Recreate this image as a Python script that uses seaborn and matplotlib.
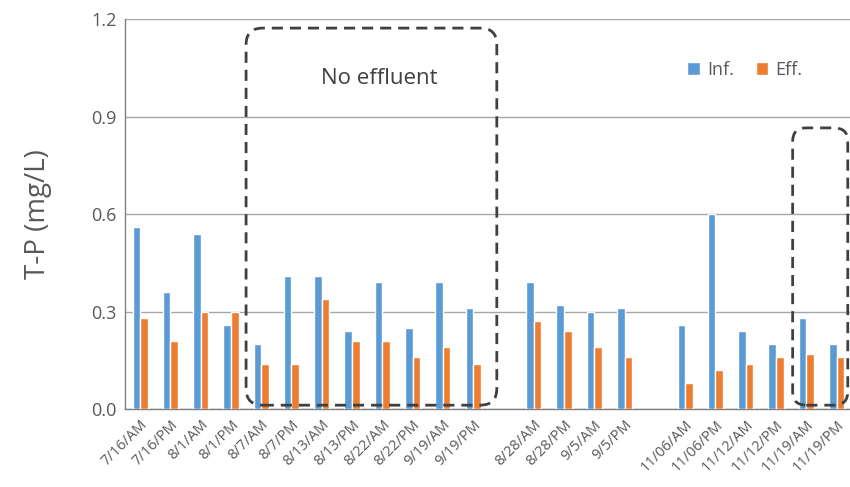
import matplotlib
matplotlib.use("Agg")
import matplotlib.pyplot as plt
from matplotlib.patches import FancyBboxPatch
import seaborn as sns
import pandas as pd

# sampling events (blank entries are the gaps between campaigns)
dates = ["7/16/AM", "7/16/PM", "8/1/AM", "8/1/PM", "8/7/AM", "8/7/PM",
         "8/13/AM", "8/13/PM", "8/22/AM", "8/22/PM", "9/19/AM", "9/19/PM",
         "gap1",
         "8/28/AM", "8/28/PM", "9/5/AM", "9/5/PM",
         "gap2",
         "11/06/AM", "11/06/PM", "11/12/AM", "11/12/PM", "11/19/AM", "11/19/PM"]
inf = [0.56, 0.36, 0.54, 0.26, 0.20, 0.41, 0.41, 0.24, 0.39, 0.25, 0.39, 0.31,
       None,
       0.39, 0.32, 0.30, 0.31,
       None,
       0.26, 0.60, 0.24, 0.20, 0.28, 0.20]
eff = [0.28, 0.21, 0.30, 0.30, 0.14, 0.14, 0.34, 0.21, 0.21, 0.16, 0.19, 0.14,
       None,
       0.27, 0.24, 0.19, 0.16,
       None,
       0.08, 0.12, 0.14, 0.16, 0.17, 0.16]
series = ["Inf.", "Eff."]
colors = ["#5B9BD5", "#ED7D31"]

df = pd.DataFrame({"date": dates * 2,
                   "value": inf + eff,
                   "series": [series[0]] * len(dates) + [series[1]] * len(dates)})
df = df.dropna()

sns.set_style("white")
plt.rcParams["font.family"] = ["Open Sans", "DejaVu Sans"]

fig = plt.figure(figsize=(8.5, 4.87), dpi=100)
ax = fig.add_axes([0.147, 0.160, 0.855, 0.801])

sns.barplot(data=df, x="date", y="value", hue="series", order=dates,
            hue_order=series, palette=colors, width=0.5, saturation=1,
            ax=ax, zorder=3)

ax.set_ylim(0, 1.2)
ax.set_yticks([0.0, 0.3, 0.6, 0.9, 1.2])
ax.set_yticklabels(["0.0", "0.3", "0.6", "0.9", "1.2"], fontsize=13, color="#595959")
ax.yaxis.grid(True, color="#a6a6a6", linewidth=1.0, zorder=0)
ax.set_xlim(-0.5, len(dates) - 0.5)
ax.set_xticks(range(len(dates)))
ax.set_xticklabels(["" if d.startswith("gap") else d for d in dates],
                   rotation=45, ha="right", rotation_mode="anchor",
                   fontsize=10.5, color="#595959")
ax.tick_params(length=0, pad=6)
ax.set_xlabel("")
ax.set_ylabel("T-P (mg/L)", fontsize=20, color="#595959", labelpad=28)
for s in ["top", "right"]:
    ax.spines[s].set_visible(False)
for s in ["left", "bottom"]:
    ax.spines[s].set_color("#808080")
    ax.spines[s].set_linewidth(1.0)

# dashed rounded boxes
i0 = dates.index("8/7/AM")
i1 = dates.index("9/19/PM")
box1 = FancyBboxPatch((i0 - 0.5, 0.012), (i1 + 0.78) - (i0 - 0.5), 1.16,
                      boxstyle="round,pad=0,rounding_size=0.55",
                      mutation_aspect=0.092, fill=False, linestyle=(0, (4, 2.5)),
                      linewidth=2, edgecolor="#404040", zorder=5, clip_on=False)
ax.add_patch(box1)
j0 = dates.index("11/19/AM")
j1 = dates.index("11/19/PM")
box2 = FancyBboxPatch((j0 - 0.45, 0.012), (j1 + 0.37) - (j0 - 0.45), 0.853,
                      boxstyle="round,pad=0,rounding_size=0.45",
                      mutation_aspect=0.092, fill=False, linestyle=(0, (4, 2.5)),
                      linewidth=2, edgecolor="#404040", zorder=5, clip_on=False)
ax.add_patch(box2)

ax.text((i0 + i1) / 2 + 0.4, 1.018, "No effluent", fontsize=16, color="#404040",
        ha="center", va="center")

ax.legend(loc="upper right", bbox_to_anchor=(0.955, 0.935), ncol=2, frameon=False,
          fontsize=13, handlelength=0.7, handleheight=0.7, handletextpad=0.4,
          columnspacing=1.2, labelcolor="#595959")

fig.savefig("out.png", dpi=100)
